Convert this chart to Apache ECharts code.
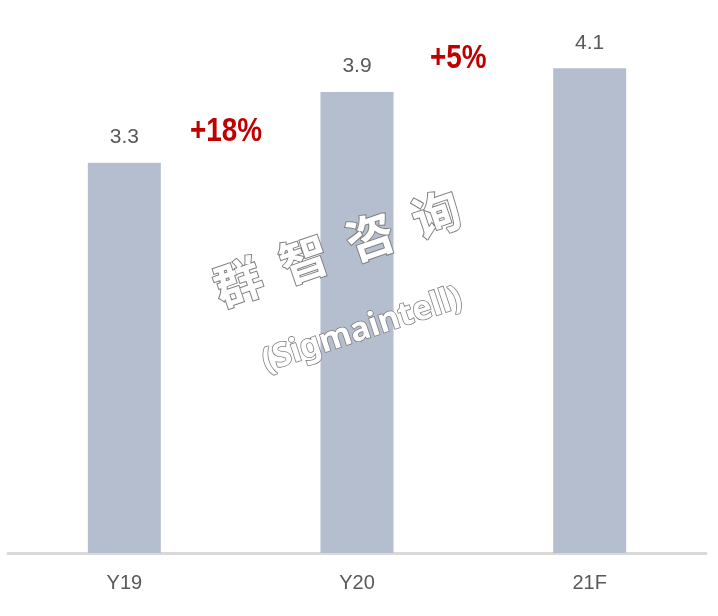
<!DOCTYPE html>
<html>
<head>
<meta charset="utf-8">
<script src="https://cdn.jsdelivr.net/npm/echarts@6/dist/echarts.min.js"></script>
<style>html,body{margin:0;padding:0;background:#fff}#c{width:718px;height:616px}</style>
</head>
<body>
<div id="c"></div>
<script>
const categories = ['Y19', 'Y20', '21F'];
const values = [3.3, 3.9, 4.1];
const growthLabels = ['+18%', '+5%'];

const chart = echarts.init(document.getElementById('c'));
chart.setOption({
  animation: false,
  backgroundColor: '#ffffff',
  grid: { left: 8, right: 12, top: 21, bottom: 63 },
  xAxis: {
    type: 'category',
    data: categories,
    axisLine: { show: true, lineStyle: { color: '#d9d9d9', width: 3 } },
    axisTick: { show: false },
    axisLabel: { color: '#595959', fontSize: 20, margin: 20, fontFamily: 'Liberation Sans, Arial, sans-serif' }
  },
  yAxis: {
    type: 'value', min: 0, max: 4.5,
    show: false, splitLine: { show: false }
  },
  series: [{
    type: 'bar',
    data: values,
    barWidth: 73,
    itemStyle: { color: '#b4bece' },
    label: {
      show: true, position: 'top', distance: 15,
      color: '#595959', fontSize: 21,
      fontFamily: 'Liberation Sans, Arial, sans-serif'
    },
    z: 2
  }],
  graphic: [
    { type: 'text', x: 190, y: 132, scaleX: 0.82, z: 10,
      style: { text: growthLabels[0], fill: '#c00000', fontSize: 34, fontWeight: 'bold',
        fontFamily: 'Liberation Sans, sans-serif', align: 'left', verticalAlign: 'middle' } },
    { type: 'text', x: 430, y: 59, scaleX: 0.82, z: 10,
      style: { text: growthLabels[1], fill: '#c00000', fontSize: 34, fontWeight: 'bold',
        fontFamily: 'Liberation Sans, sans-serif', align: 'left', verticalAlign: 'middle' } },
    { type: 'text', x: 337, y: 248, rotation: 0.33, z: 20,
      style: { text: '群  智  咨  询', fill: '#ffffff', stroke: '#7f7f7f', lineWidth: 2,
        fontSize: 48, fontWeight: 'bold', fontFamily: 'Noto Sans CJK SC', align: 'center', verticalAlign: 'middle' } },
    { type: 'text', x: 362, y: 330, rotation: 0.32, z: 20,
      style: { text: '(Sigmaintell)', fill: '#ffffff', stroke: '#7f7f7f', lineWidth: 1.6,
        fontSize: 33, fontWeight: 'bold', fontFamily: 'Noto Sans, sans-serif', align: 'center', verticalAlign: 'middle' } }
  ]
});
</script>
</body>
</html>
